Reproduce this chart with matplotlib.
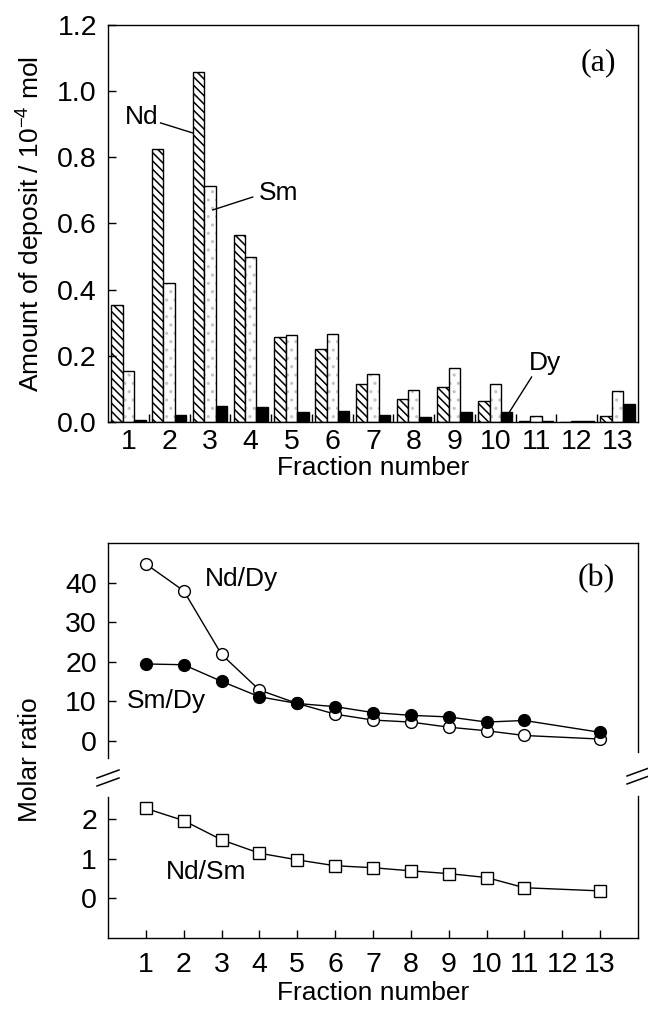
import matplotlib
matplotlib.use("Agg")
import matplotlib.pyplot as plt
from matplotlib.lines import Line2D
import numpy as np

# ---- data ------------------------------------------------------------------
fractions = [1, 2, 3, 4, 5, 6, 7, 8, 9, 10, 11, 12, 13]
nd = [0.355, 0.826, 1.057, 0.566, 0.258, 0.221, 0.115, 0.069, 0.105, 0.063, 0.004, 0.001, 0.018]
sm = [0.154, 0.420, 0.714, 0.499, 0.262, 0.266, 0.146, 0.096, 0.164, 0.116, 0.018, 0.002, 0.095]
dy = [0.005, 0.021, 0.048, 0.046, 0.030, 0.034, 0.021, 0.015, 0.030, 0.030, 0.002, 0.002, 0.053]

ratio_x = [1, 2, 3, 4, 5, 6, 7, 8, 9, 10, 11, 13]
nd_dy = [44.7, 37.9, 21.8, 12.8, 9.4, 6.7, 5.2, 4.7, 3.4, 2.5, 1.3, 0.4]
sm_dy = [19.4, 19.2, 15.0, 11.1, 9.4, 8.6, 7.1, 6.4, 6.0, 4.7, 5.1, 2.1]
nd_sm = [2.28, 1.97, 1.48, 1.14, 0.97, 0.82, 0.77, 0.69, 0.62, 0.52, 0.26, 0.18]

plt.rcParams["font.family"] = ["Liberation Sans", "DejaVu Sans"]
plt.rcParams["mathtext.fontset"] = "custom"
plt.rcParams["mathtext.rm"] = "Liberation Sans"
plt.rcParams["hatch.linewidth"] = 1.1
FS = 19      # axis labels / annotations
TFS = 20.5   # tick labels
SERIF = ["Liberation Serif", "DejaVu Serif"]

W, H = 648, 1010
fig = plt.figure(figsize=(W / 100, H / 100), dpi=100)


def rect(l, t, r, b):
    return [l / W, 1 - b / H, (r - l) / W, (b - t) / H]


# ---- (a) bars ----------------------------------------------------------------
axa = fig.add_axes(rect(108, 25, 638, 422))
x = np.array(fractions, dtype=float)
w = 0.28
axa.bar(x - w, nd, w, facecolor="white", edgecolor="black", hatch="\\\\\\\\", lw=1.0)
axa.bar(x, sm, w, facecolor="white", edgecolor="#c4c4c4", hatch="..", lw=0)
axa.bar(x, sm, w, fill=False, edgecolor="black", lw=1.0)
axa.bar(x + w, dy, w, color="black", edgecolor="black", lw=1.0)
axa.set_xlim(0.5, 13.5)
axa.set_ylim(0, 1.2)
axa.set_xticks(fractions)
axa.set_xticks(np.arange(1.5, 13, 1), minor=True)
axa.set_yticks(np.arange(0, 1.21, 0.2))
axa.set_yticklabels([f"{v:.1f}" for v in np.arange(0, 1.21, 0.2)])
axa.tick_params(axis="x", which="major", length=0, pad=5, labelsize=TFS)
axa.tick_params(axis="x", which="minor", direction="in", length=6, width=1)
axa.tick_params(axis="y", direction="in", length=6, width=1, pad=8, labelsize=TFS)
axa.set_xlabel("Fraction number", fontsize=FS, labelpad=1)
fig.text(30 / W, 1 - 224 / H, r"Amount of deposit / 10$^{-4}$ mol", rotation=90,
         fontsize=FS, ha="center", va="center")
for s in axa.spines.values():
    s.set_linewidth(1.0)

axa.text(1.33, 0.922, "Nd", fontsize=FS, ha="center", va="center")
axa.plot([1.79, 2.57], [0.904, 0.874], color="black", lw=1)
axa.text(4.68, 0.692, "Sm", fontsize=FS, ha="center", va="center")
axa.plot([4.05, 3.07], [0.68, 0.641], color="black", lw=1)
axa.text(11.23, 0.178, "Dy", fontsize=FS, ha="center", va="center")
axa.plot([10.89, 10.33], [0.136, 0.027], color="black", lw=1)
axa.text(12.53, 1.085, "(a)", fontsize=23, family=SERIF, ha="center", va="center")

# ---- (b) molar ratios, broken axis ------------------------------------------
axu = fig.add_axes(rect(108, 543, 638, 777))
axl = fig.add_axes(rect(108, 777, 638, 938))
for ax in (axu, axl):
    ax.set_xlim(0, 14)
    ax.patch.set_alpha(0)
    for s in ax.spines.values():
        s.set_linewidth(1.0)

axu.set_ylim(-9.2, 50)
axu.set_yticks([0, 10, 20, 30, 40])
axu.set_xticks([])
axu.spines["bottom"].set_visible(False)
axu.spines["left"].set_bounds(-4.4, 50)
axu.spines["right"].set_bounds(-3.0, 50)
axu.tick_params(axis="y", direction="in", length=6, width=1, pad=8, labelsize=TFS)

axl.set_ylim(-1.02, 3.08)
axl.set_yticks([0, 1, 2])
axl.set_xticks(fractions)
axl.spines["top"].set_visible(False)
axl.spines["left"].set_bounds(-1.02, 2.57)
axl.spines["right"].set_bounds(-1.02, 2.6)
axl.tick_params(axis="y", direction="in", length=6, width=1, pad=8, labelsize=TFS)
axl.tick_params(axis="x", direction="in", length=6, width=1, pad=10, labelsize=TFS)
axl.set_xlabel("Fraction number", fontsize=FS, labelpad=2)

axu.plot(ratio_x, nd_dy, "-o", color="black", lw=1, ms=8.5, mfc="white", mec="black", mew=1)
axu.plot(ratio_x, sm_dy, "-o", color="black", lw=1, ms=8.5, mfc="black", mec="black", mew=1)
axl.plot(ratio_x, nd_sm, "-s", color="black", lw=1, ms=8.5, mfc="white", mec="black", mew=1)

axu.text(3.53, 40.8, "Nd/Dy", fontsize=FS, ha="center", va="center")
axu.text(1.55, 10.0, "Sm/Dy", fontsize=FS, ha="center", va="center")
axu.text(12.9, 41.1, "(b)", fontsize=23, family=SERIF, ha="center", va="center")
axl.text(2.6, 0.66, "Nd/Sm", fontsize=FS, ha="center", va="center")

fig.text(30 / W, 1 - 760 / H, "Molar ratio", rotation=90, fontsize=FS,
         ha="center", va="center")


# break marks "//" on both sides of panel (b)
def brk(px, py):
    for off in (-4, 4):
        xs = [(px - 11) / W, (px + 11) / W]
        ys = [1 - (py + off + 4) / H, 1 - (py + off - 4) / H]
        fig.add_artist(Line2D(xs, ys, color="black", lw=1.1))


brk(108, 778)
brk(638, 776)

fig.savefig("out.png", dpi=100)
